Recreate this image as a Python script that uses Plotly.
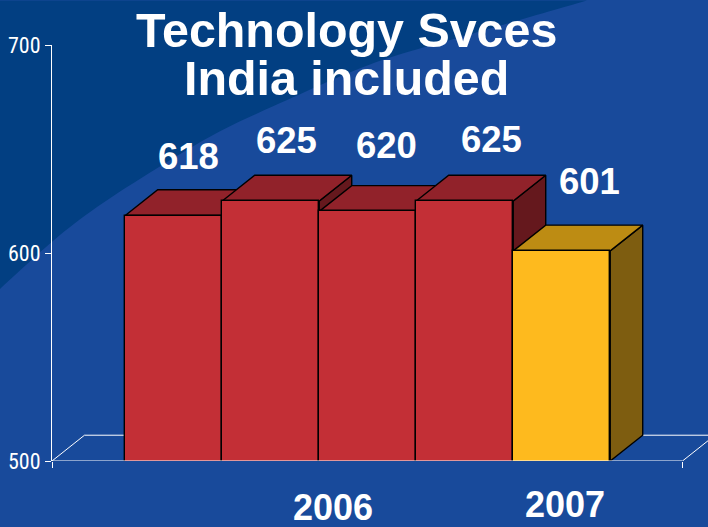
import plotly.graph_objects as go

# Revenue per quarter, in the order the bars are drawn
values = [618, 625, 620, 625, 601]
value_labels = ["618", "625", "620", "625", "601"]
front_colors = ["#c32f36", "#c32f36", "#c32f36", "#c32f36", "#feba1e"]
top_colors = ["#91222a", "#91222a", "#91222a", "#91222a", "#bd8c13"]
side_colors = ["#65181d", "#65181d", "#65181d", "#65181d", "#7e5d10"]

year_labels = ["2006", "2007"]
year_x = [2.9, 5.293]
year_y = [-0.112, -0.105]

title_lines = ["Technology Svces", "India included"]
y_ticks = [500, 600, 700]

# Label placement relative to each bar
label_dx = [0.15, 0.16, 0.195, 0.28, 0.29]
label_dy = [28.3, 29.0, 31.5, 29.5, 33.3]

# Axis and pseudo-3D depth settings
X_MAX = 6.5
X_VIEW = 6.763
Y_MIN, Y_MAX = 500, 700
DEPTH_X = 0.335
DEPTH_Y = 12.4
FIRST_CENTER = 1.255
centers = [FIRST_CENTER + i for i in range(len(values))]

WIDTH, HEIGHT = 708, 527
M_L, M_R, M_T, M_B = 52, 0, 44.5, 65.5

BG_LIGHT = "#184a9b"
BG_DARK = "#023f82"
WHITE = "#ffffff"
EDGE = dict(color="#000000", width=1.4)


def page_to_paper(px, py):
    plot_w = WIDTH - M_L - M_R
    plot_h = HEIGHT - M_T - M_B
    return (px - M_L) / plot_w, (HEIGHT - M_B - py) / plot_h


def smooth_path(points):
    """Catmull-Rom curve through the points, closed over the top-left corner."""
    corner = page_to_paper(0, 0)
    pts = [page_to_paper(*p) for p in points]
    parts = ["M %.4f,%.4f" % pts[0]]
    for i in range(len(pts) - 1):
        p0 = pts[max(i - 1, 0)]
        p1, p2 = pts[i], pts[i + 1]
        p3 = pts[min(i + 2, len(pts) - 1)]
        c1 = (p1[0] + (p2[0] - p0[0]) / 6, p1[1] + (p2[1] - p0[1]) / 6)
        c2 = (p2[0] - (p3[0] - p1[0]) / 6, p2[1] - (p3[1] - p1[1]) / 6)
        parts.append("C %.4f,%.4f %.4f,%.4f %.4f,%.4f" % (*c1, *c2, *p2))
    parts.append("L %.4f,%.4f Z" % corner)
    return " ".join(parts)


# Edge of the darker swoosh in the upper-left corner of the slide background
swoosh_edge = [(0, 289), (53, 241), (97, 207), (157, 168), (220, 131), (293, 97),
               (340, 76), (390, 57), (473, 33), (587, 0)]

fig = go.Figure()

# Floor of the 3D box, behind every bar
fig.add_trace(go.Scatter(
    x=[0, DEPTH_X, X_MAX + DEPTH_X, None, X_MAX, X_MAX + DEPTH_X],
    y=[Y_MIN, Y_MIN + DEPTH_Y, Y_MIN + DEPTH_Y, None, Y_MIN, Y_MIN + DEPTH_Y],
    mode="lines", line=dict(color=WHITE, width=1),
    cliponaxis=True, hoverinfo="skip", showlegend=False,
))

# Side and top faces, painted left to right so nearer bars overlap
for c, v, top, side in zip(centers, values, top_colors, side_colors):
    left, right = c - 0.5, c + 0.5
    fig.add_trace(go.Scatter(
        x=[right, right + DEPTH_X, right + DEPTH_X, right, right],
        y=[v, v + DEPTH_Y, Y_MIN + DEPTH_Y, Y_MIN, v],
        mode="lines", fill="toself", fillcolor=side, line=EDGE,
        cliponaxis=False, hoverinfo="skip", showlegend=False,
    ))
    fig.add_trace(go.Scatter(
        x=[left, left + DEPTH_X, right + DEPTH_X, right, left],
        y=[v, v + DEPTH_Y, v + DEPTH_Y, v, v],
        mode="lines", fill="toself", fillcolor=top, line=EDGE,
        cliponaxis=False, hoverinfo="skip", showlegend=False,
    ))

# Front faces sit on the overlaid axes, above all the depth faces
fig.add_trace(go.Bar(
    x=centers, y=values, width=1.0, xaxis="x2", yaxis="y2",
    marker=dict(color=front_colors, line=dict(color="#000000", width=1.4)),
    showlegend=False,
))

# Baseline of the category axis, running under the bars to the last tick
fig.add_trace(go.Scatter(
    x=[0, X_MAX], y=[Y_MIN, Y_MIN], xaxis="x2", yaxis="y2",
    mode="lines", line=dict(color=WHITE, width=1),
    cliponaxis=False, hoverinfo="skip", showlegend=False,
))

annotations = []
for c, v, text, dx, dy in zip(centers, values, value_labels, label_dx, label_dy):
    annotations.append(dict(
        x=c + dx, y=v + dy, xref="x", yref="y", text="<b>%s</b>" % text,
        showarrow=False, xanchor="center", yanchor="middle",
        font=dict(family="Liberation Sans", size=36.5, color=WHITE),
    ))
for text, x, y in zip(year_labels, year_x, year_y):
    annotations.append(dict(
        x=x, y=y, xref="x", yref="paper", text="<b>%s</b>" % text,
        showarrow=False, xanchor="center", yanchor="middle",
        font=dict(family="Liberation Sans", size=36, color=WHITE),
    ))
for text, y in zip(title_lines, [1.0355, 0.9205]):
    annotations.append(dict(
        x=(346 - M_L) / (WIDTH - M_L - M_R), y=y, xref="paper", yref="paper",
        text="<b>%s</b>" % text,
        showarrow=False, xanchor="center", yanchor="middle",
        font=dict(family="Liberation Sans", size=48.4, color=WHITE),
    ))

fig.update_layout(
    width=WIDTH, height=HEIGHT,
    margin=dict(l=M_L, r=M_R, t=M_T, b=M_B, autoexpand=False),
    paper_bgcolor=BG_LIGHT, plot_bgcolor="rgba(0,0,0,0)",
    showlegend=False, bargap=0, annotations=annotations,
    shapes=[dict(type="path", path=smooth_path(swoosh_edge), xref="paper", yref="paper",
                 fillcolor=BG_DARK, line=dict(width=0), layer="below")],
    xaxis=dict(range=[0, X_VIEW], visible=False),
    yaxis=dict(range=[Y_MIN, Y_MAX], visible=False),
    xaxis2=dict(
        range=[0, X_VIEW], overlaying="x", side="bottom", anchor="y2",
        showgrid=False, zeroline=False, showline=False,
        tickmode="array", tickvals=[0, X_MAX], ticktext=["", ""],
        ticks="outside", ticklen=6, tickcolor=WHITE, tickwidth=1,
    ),
    yaxis2=dict(
        range=[Y_MIN, Y_MAX], overlaying="y", side="left", anchor="x2",
        showgrid=False, zeroline=False, showline=True, linecolor=WHITE, linewidth=1,
        tickmode="array", tickvals=y_ticks,
        ticks="outside", ticklen=6, tickcolor=WHITE, tickwidth=1,
        tickfont=dict(family="Roboto Condensed, Open Sans Condensed, DejaVu Sans Condensed, Liberation Sans",
                      size=22, color=WHITE),
    ),
)

fig.write_html("out.html", config=dict(displayModeBar=False))
